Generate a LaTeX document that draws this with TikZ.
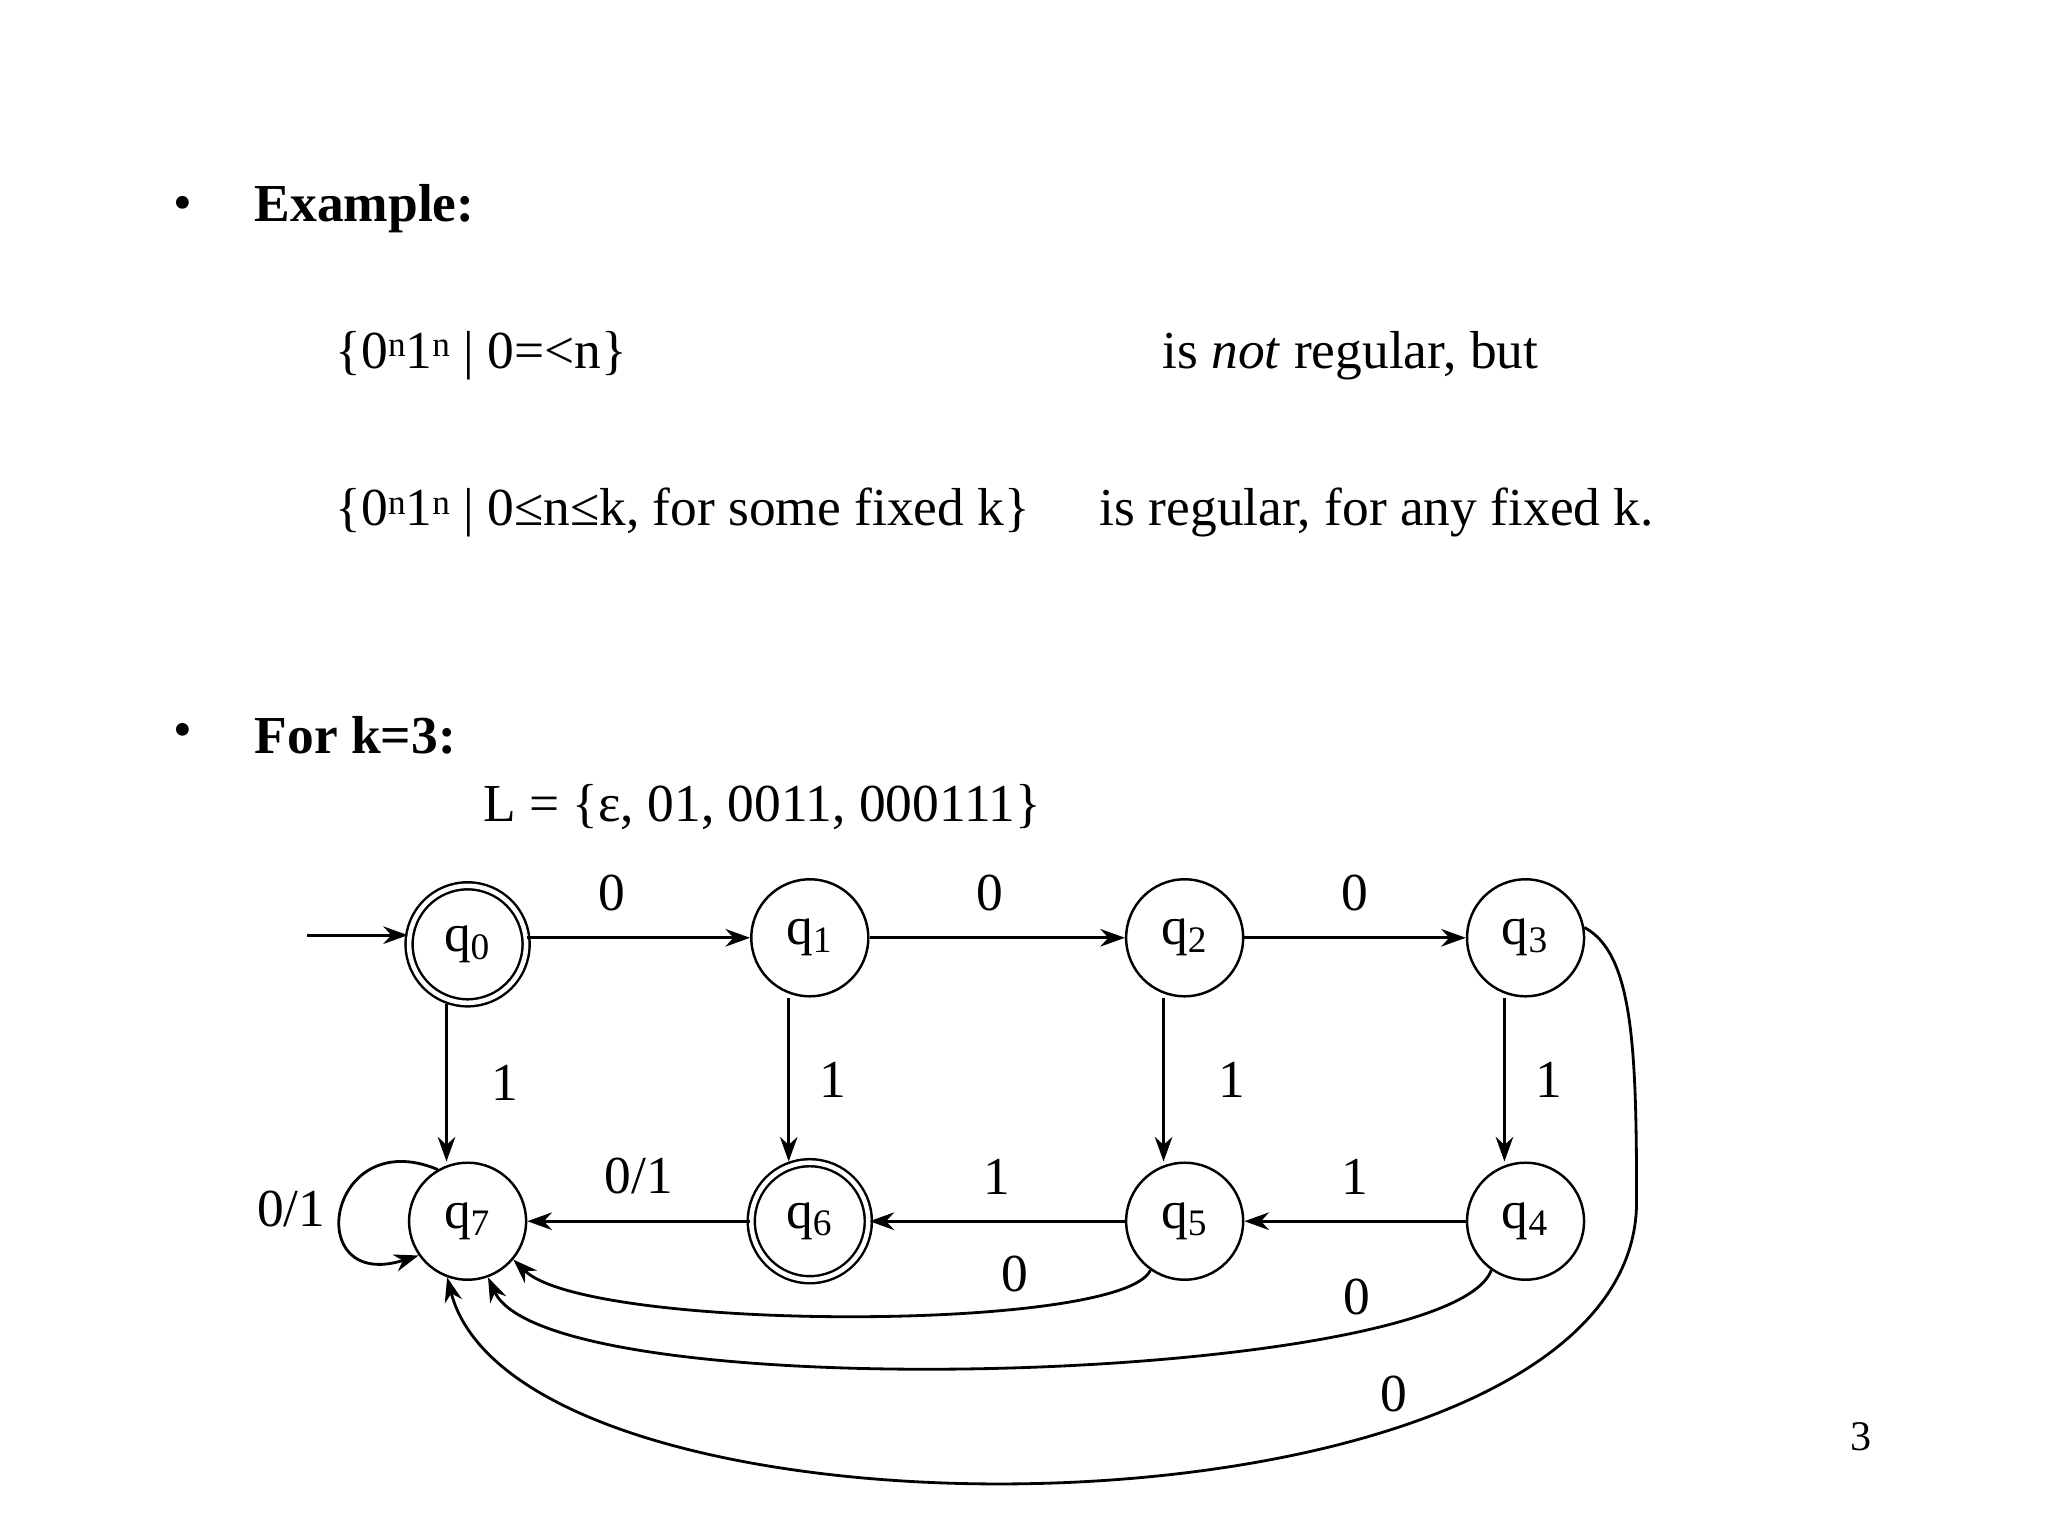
\documentclass[tikz,border=0pt]{standalone}
\usepackage{fontspec}
\setmainfont{Liberation Serif}
\usetikzlibrary{automata, positioning, arrows.meta}
\tikzset{
	>={Stealth[length=7pt,width=5pt]},
	every state/.style={draw, line width=0.7pt, minimum size=1.17cm, inner sep=0pt},
	accepting/.style={double, double distance=1.3pt},
}
\newcommand{\upidx}[1]{\raisebox{0.45ex}{\fontsize{10}{12}\selectfont #1}}
\begin{document}
\begin{tikzpicture}[x=0.01306cm, y=-0.01306cm, font=\fontsize{15.2}{18}\selectfont, line width=0.8pt]
			\useasboundingbox (0,0) rectangle (1568,1176);
			% text
			\node (b1) at (140,160) {\textbullet};
			\node[anchor=west] (ex) at (185,160) {\textbf{Example:}};
			\node[anchor=west] (s1) at (247,272) {\{0\upidx{n}1\upidx{n} | 0=<n\}};
			\node[anchor=west] (r1) at (880,272) {is \textit{not} regular, but};
			\node[anchor=west] (s2) at (247,392) {\{0\upidx{n}1\upidx{n} | 0≤n≤k, for some fixed k\}};
			\node[anchor=west] (r2) at (832,392) {is regular, for any fixed k.};
			\node (b2) at (140,563) {\textbullet};
			\node[anchor=west] (fk) at (185,563) {\textbf{For k=3:}};
			\node[anchor=west] (L) at (360,618) {L = \{ε, 01, 0011, 000111\}};
			\node (pg) at (1425,1100) {\fontsize{12}{14}\selectfont 3};
			% states
			\node[state, accepting] (q0) at (358,723) {q\textsubscript{0}};
			\node[state] (q1) at (620,718) {q\textsubscript{1}};
			\node[state] (q2) at (907,718) {q\textsubscript{2}};
			\node[state] (q3) at (1168,718) {q\textsubscript{3}};
			\node[state] (q7) at (358,935) {q\textsubscript{7}};
			\node[state, accepting] (q6) at (620,935) {q\textsubscript{6}};
			\node[state] (q5) at (907,935) {q\textsubscript{5}};
			\node[state] (q4) at (1168,935) {q\textsubscript{4}};
			\coordinate (in) at (235,716);
			
			\draw[->] (in) -- (q0.west |- in);
			\draw[->] (q0.east |- q1) -- node[pos=0.38, above=4pt]{0} (q1);
			\draw[->] (q1) -- node[pos=0.47, above=4pt]{0} (q2);
			\draw[->] (q2) -- node[pos=0.5, above=4pt]{0} (q3);
			\draw[->] ([xshift=-6]q0.south) -- node[right=9pt]{1} ([xshift=-6]q7.north);
			\draw[->] ([xshift=-6]q1.south) -- node[right=5pt]{1} ([xshift=-6]q6.north);
			\draw[->] ([xshift=-6]q2.south) -- node[right=12pt]{1} ([xshift=-6]q5.north);
			\draw[->] ([xshift=-6]q3.south) -- node[right=5pt]{1} ([xshift=-6]q4.north);
			\draw[->] (q4) -- node[above=4pt]{1} (q5);
			\draw[->] (q5) -- node[above=4pt]{1} (q6);
			\draw[->] (q6) -- node[above=4pt]{0/1} (q7);
			\draw[->] (q7.120) .. controls (250,860) and (230,990) .. node[left=1pt]{0/1} (q7.215);
			\draw[->] (q5.235) .. controls (860,1020) and (450,1020) .. node[pos=0.3, above=1pt]{0} (q7.-40);
			\draw[->] (q4.235) .. controls (1110,1060) and (420,1080) .. node[pos=0.22, above=1pt]{0} (q7.-70);
			\draw[->] (q3.10) .. controls (1250,730) and (1253,800) .. (1253,920)
				.. controls (1253,1190) and (400,1200) .. node[pos=0.3, above=1pt]{0} (q7.250);
		\end{tikzpicture}
\end{document}
